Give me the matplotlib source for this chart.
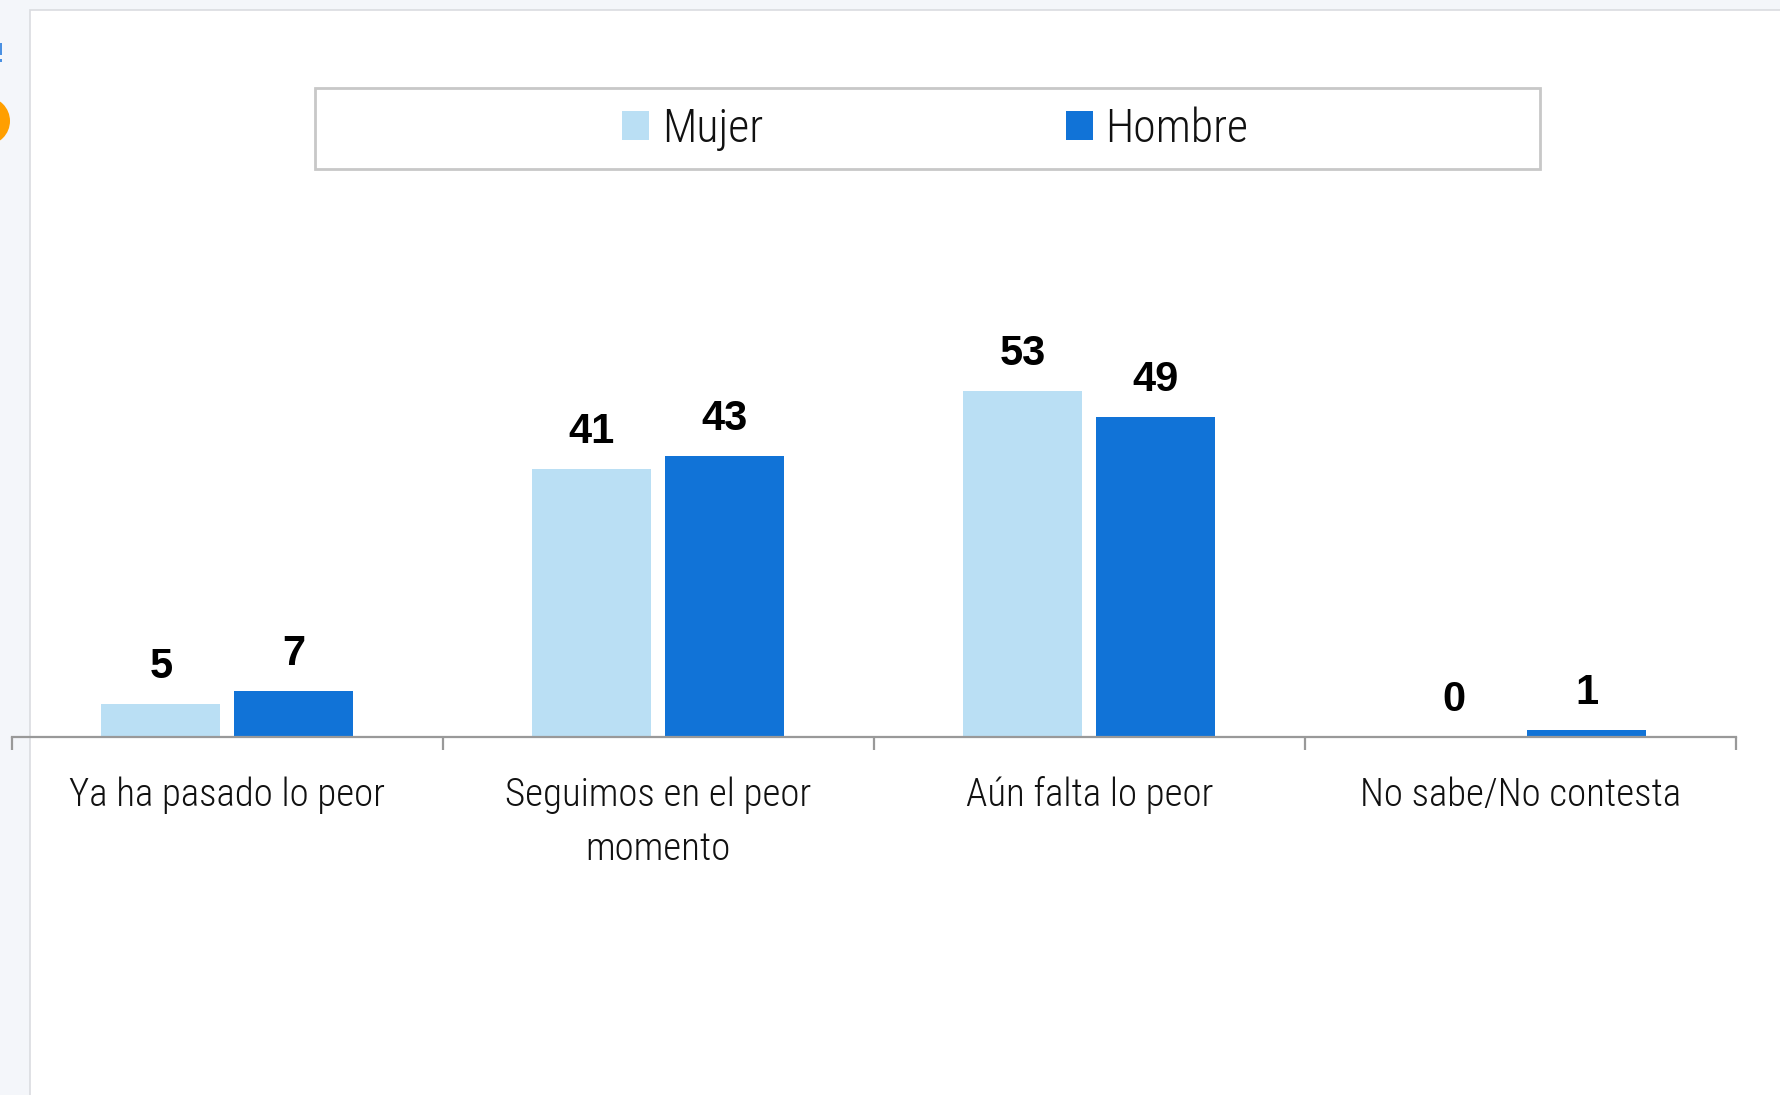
import matplotlib
matplotlib.use("Agg")
import matplotlib.pyplot as plt
from matplotlib.patches import Rectangle, Ellipse, Patch
import numpy as np

categories = ["Ya ha pasado lo peor", "Seguimos en el peor\nmomento",
              "Aún falta lo peor", "No sabe/No contesta"]
series_names = ["Mujer", "Hombre"]
mujer = [5, 41, 53, 0]
hombre = [7, 43, 49, 1]
colors = ["#BADFF4", "#1173D7"]

W, H = 1781, 1095
DPI = 100
fig = plt.figure(figsize=(W / DPI, H / DPI), dpi=DPI, facecolor="#F4F6FA")

TXT = ["Roboto Condensed", "Liberation Sans Narrow", "Liberation Sans", "DejaVu Sans"]
NUM = ["Liberation Sans", "DejaVu Sans"]

def fx(px):
    return px / W

def fy(py):
    return 1 - py / H

# page decoration: white panel, orange badge, blue marks
fig.patches.append(Rectangle((fx(29.5), -0.01), 1.1, fy(9.5) + 0.01,
                             transform=fig.transFigure, facecolor="white",
                             edgecolor="#DADCE0", linewidth=1.2, zorder=-5))
fig.patches.append(Ellipse((fx(-14), fy(121)), 48 / W, 48 / H,
                           transform=fig.transFigure, facecolor="#FF9F00",
                           edgecolor="none", zorder=-4))
fig.patches.append(Rectangle((0, fy(55)), 2.5 / W, 12 / H, transform=fig.transFigure,
                             facecolor="#4A90E2", edgecolor="none", zorder=-4))
fig.patches.append(Rectangle((0, fy(62)), 2.5 / W, 3 / H, transform=fig.transFigure,
                             facecolor="#4A90E2", edgecolor="none", zorder=-4))
# legend frame
fig.patches.append(Rectangle((fx(315), fy(169.3)), fx(1540) - fx(315),
                             fy(88) - fy(169.3), transform=fig.transFigure,
                             facecolor="white", edgecolor="#C8C8C8",
                             linewidth=2, zorder=-3))

# axes
ax_left, ax_right = 11.7, 1735.7
base_y = 736.7
ymax = 60
px_per_unit = 6.52
ax_top = base_y - ymax * px_per_unit
ax = fig.add_axes([fx(ax_left), 1 - base_y / H, (ax_right - ax_left) / W,
                   (base_y - ax_top) / H])
ax.patch.set_alpha(0)
ax.set_zorder(2)

x = np.arange(len(categories))
bw = 0.276
off = 0.154
b1 = ax.bar(x - off, mujer, bw, color=colors[0], label=series_names[0], zorder=2)
b2 = ax.bar(x + off, hombre, bw, color=colors[1], label=series_names[1], zorder=2)

for bars, vals in ((b1, mujer), (b2, hombre)):
    for r, v in zip(bars, vals):
        ax.annotate(str(v), (r.get_x() + r.get_width() / 2, v),
                    xytext=(0, 18.8), textcoords="offset points",
                    ha="center", va="baseline", fontsize=30, fontweight="bold",
                    family=NUM, color="black", annotation_clip=False)

ax.set_xlim(-0.5, len(categories) - 0.5)
ax.set_ylim(0, ymax)
for s in ("left", "right", "top"):
    ax.spines[s].set_visible(False)
ax.spines["bottom"].set_color("#999999")
ax.spines["bottom"].set_linewidth(1.6)
ax.spines["bottom"].set_zorder(3)
ax.set_yticks([])

ax.set_xticks(x)
ax.set_xticklabels(categories, fontsize=28, family=TXT, color="#111111",
                   fontweight="light", linespacing=1.56)
ax.tick_params(axis="x", which="major", length=0, pad=28.5)
ax.set_xticks(np.arange(len(categories) + 1) - 0.5, minor=True)
ax.tick_params(axis="x", which="minor", length=9.6, width=1.6, color="#999999",
               direction="out")

handles = [Patch(facecolor=c, edgecolor="none") for c in colors]
leg = fig.legend(handles, series_names, loc="center left",
                 bbox_to_anchor=(fx(622), fy(128.5)), bbox_transform=fig.transFigure,
                 ncol=2, frameon=False, borderpad=0, borderaxespad=0,
                 prop={"family": TXT, "size": 33, "weight": "light"},
                 handlelength=0.59, handleheight=0.62, handletextpad=0.28,
                 columnspacing=6.6)
leg.set_zorder(3)
for t in leg.get_texts():
    t.set_color("#111111")

fig.savefig("out.png", dpi=DPI, facecolor=fig.get_facecolor())
